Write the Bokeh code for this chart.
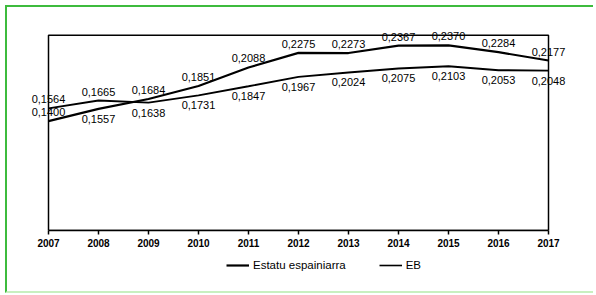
from bokeh.plotting import figure
from bokeh.models import Legend, LegendItem, FixedTicker, ColumnDataSource, Range1d
from bokeh.layouts import column
from bokeh.core.properties import value
from bokeh.embed import file_html
from bokeh.resources import INLINE

years = [2007, 2008, 2009, 2010, 2011, 2012, 2013, 2014, 2015, 2016, 2017]
estatu = [0.1400, 0.1557, 0.1684, 0.1851, 0.2088, 0.2275, 0.2273, 0.2367, 0.2370, 0.2284, 0.2177]
eb = [0.1564, 0.1665, 0.1638, 0.1731, 0.1847, 0.1967, 0.2024, 0.2075, 0.2103, 0.2053, 0.2048]
series_names = ["Estatu espainiarra", "EB"]

FONT = "Liberation Sans"
Y_MAX = 0.25
W = 586

p = figure(width=W, height=245, output_backend="svg", toolbar_location=None,
           x_range=Range1d(2006.6, 2017.6), y_range=Range1d(0, 0.26),
           min_border_left=21, min_border_right=W - 571, min_border_top=20, min_border_bottom=22)
p.background_fill_color = "white"
p.border_fill_color = "white"
p.xgrid.visible = False
p.ygrid.visible = False
p.yaxis.visible = False
p.outline_line_color = None

p.xaxis.ticker = FixedTicker(ticks=years)
p.xaxis.bounds = (years[0], years[-1])
p.xaxis.minor_tick_line_color = None
p.xaxis.major_tick_out = 4
p.xaxis.major_tick_in = 0
p.xaxis.axis_line_color = "black"
p.xaxis.axis_line_width = 1.5
p.xaxis.major_tick_line_color = "black"
p.xaxis.major_tick_line_width = 1.5
p.xaxis.major_label_text_font = FONT
p.xaxis.major_label_text_font_size = "10px"
p.xaxis.major_label_text_font_style = "bold"
p.xaxis.major_label_text_color = "black"
p.xaxis.major_label_standoff = 4

# plot box
p.quad(left=[years[0]], right=[years[-1]], bottom=[0], top=[Y_MAX],
       fill_color=None, line_color="black", line_width=1.5)


def fmt(v):
    return f"{v:.4f}".replace(".", ",")


def offsets(vals, other):
    out = []
    for i, (v, o) in enumerate(zip(vals, other)):
        if i == 0 or v >= o:
            out.append(-9)
        else:
            out.append(10)
    return out


p.line(years, estatu, line_color="black", line_width=2.2)
p.line(years, eb, line_color="black", line_width=1.9)

for vals, other in ((estatu, eb), (eb, estatu)):
    src = ColumnDataSource(dict(x=years, y=vals, t=[fmt(v) for v in vals],
                                off=offsets(vals, other)))
    p.text(x="x", y="y", text="t", y_offset="off", source=src,
           text_font=value(FONT), text_font_size="11px", text_color="black",
           text_align="center", text_baseline="middle")

# legend strip (its lines lie outside this strip's view; only the legend shows)
pl = figure(width=W, height=39, output_backend="svg", toolbar_location=None,
            x_range=Range1d(0, 1), y_range=Range1d(0, 1),
            min_border_left=0, min_border_right=0, min_border_top=0, min_border_bottom=0)
pl.xaxis.visible = False
pl.yaxis.visible = False
pl.xgrid.visible = False
pl.ygrid.visible = False
pl.outline_line_color = None
pl.background_fill_color = "white"
pl.border_fill_color = "white"
l1 = pl.line(years, estatu, line_color="black", line_width=2.2)
l2 = pl.line(years, eb, line_color="black", line_width=1.6)

legend = Legend(items=[LegendItem(label=series_names[0], renderers=[l1]),
                       LegendItem(label=series_names[1], renderers=[l2])],
                location=(198, 16), orientation="horizontal",
                glyph_width=23, glyph_height=20, label_height=20, label_standoff=4,
                spacing=33, padding=0, margin=0,
                border_line_color=None, background_fill_alpha=0,
                label_text_font=FONT, label_text_font_size="11.5px",
                label_text_color="black")
pl.add_layout(legend)

layout = column(p, pl, spacing=0)
layout.styles = {"border-top": "2px solid #3dbb3d", "border-left": "2px solid #3dbb3d",
                 "border-bottom": "2px solid #c8f0c0", "margin-top": "5px", "margin-left": "5px"}

open("out.html", "w").write(file_html(layout, INLINE))
